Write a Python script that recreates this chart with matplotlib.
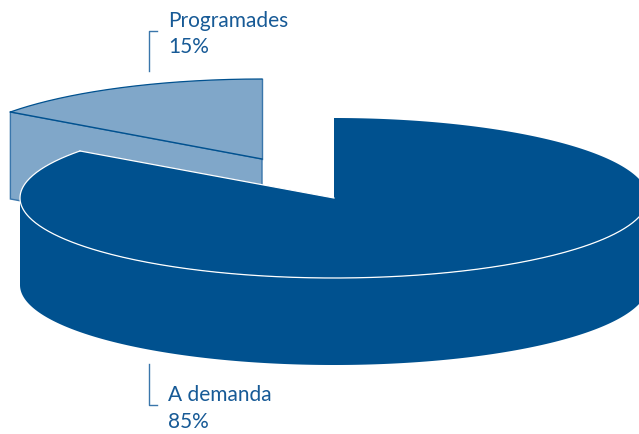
import numpy as np
import matplotlib
matplotlib.use("Agg")
import matplotlib.pyplot as plt
from matplotlib.patches import Polygon

categories = ["A demanda", "Programades"]
shares = [85, 15]

DARK = "#00518f"
LIGHT = "#80a7c9"
EDGE = "#3a76ab"
TEXT = "#175a96"

ry = 80
depth = 87
dark_c = (334, 199)
dark_rx = 314
light_c = (262, 160)
light_rx = 311


def arc(center, rx, t0, t1, dy=0):
    # points on the ellipse, t in degrees counter-clockwise from east
    t = np.radians(np.linspace(t0, t1, 300))
    return np.column_stack([center[0] + rx * np.cos(t), center[1] - ry * np.sin(t) + dy])


# both slices start at 12 o'clock, the big one goes clockwise
split = 90 + 360 * shares[1] / sum(shares)

fig = plt.figure(figsize=(6.39, 4.35), dpi=100)
ax = fig.add_axes([0, 0, 1, 1])
ax.set_xlim(0, 639)
ax.set_ylim(435, 0)
ax.axis("off")

# light slice, pulled out to the upper left
l_top = arc(light_c, light_rx, 90, split)
p0 = l_top[-1]
cut = np.array([p0, light_c, (light_c[0], light_c[1] + depth), (p0[0], p0[1] + depth)])
ax.add_patch(Polygon(cut, closed=True, fc=LIGHT, ec=EDGE, lw=1, zorder=1))
ax.add_patch(Polygon(np.vstack([[light_c], l_top]), closed=True, fc=LIGHT, ec="none", zorder=2))
ax.plot([light_c[0], light_c[0]], [light_c[1], l_top[0][1]], color=EDGE, lw=1, zorder=2)
ax.plot(*l_top.T, color=DARK, lw=0.9, zorder=2)
ax.plot([p0[0], light_c[0]], [p0[1], light_c[1]], color=DARK, lw=1, zorder=2)

# dark slice: wall first, then top face
front = arc(dark_c, dark_rx, 180, 360)
wall = np.vstack([front, arc(dark_c, dark_rx, 360, 180, dy=depth)])
ax.add_patch(Polygon(wall, closed=True, fc=DARK, ec="none", zorder=3))

d_top = arc(dark_c, dark_rx, split, 360 + 90)
ax.add_patch(Polygon(np.vstack([[dark_c], d_top]), closed=True, fc=DARK, ec="none", zorder=4))

# white edge only along the left and the front of the top face
rim = arc(dark_c, dark_rx, split, 360)
ax.plot(*rim.T, color="white", lw=0.9, zorder=5)
ax.plot([rim[0][0], dark_c[0]], [rim[0][1], dark_c[1]], color="white", lw=0.9, zorder=5)

# label brackets
ax.plot([157, 148.5, 148.5], [31.5, 31.5, 72], color=EDGE, lw=1, zorder=6)
ax.plot([148.5, 148.5, 157], [365, 405.5, 405.5], color=EDGE, lw=1, zorder=6)

font = {"family": "Lato", "fontsize": 15, "color": TEXT}
ax.text(168, 27, categories[1], va="baseline", **font)
ax.text(168, 53, f"{shares[1]}%", va="baseline", **font)
ax.text(168, 401, categories[0], va="baseline", **font)
ax.text(168, 428, f"{shares[0]}%", va="baseline", **font)

fig.savefig("out.png", dpi=100)
